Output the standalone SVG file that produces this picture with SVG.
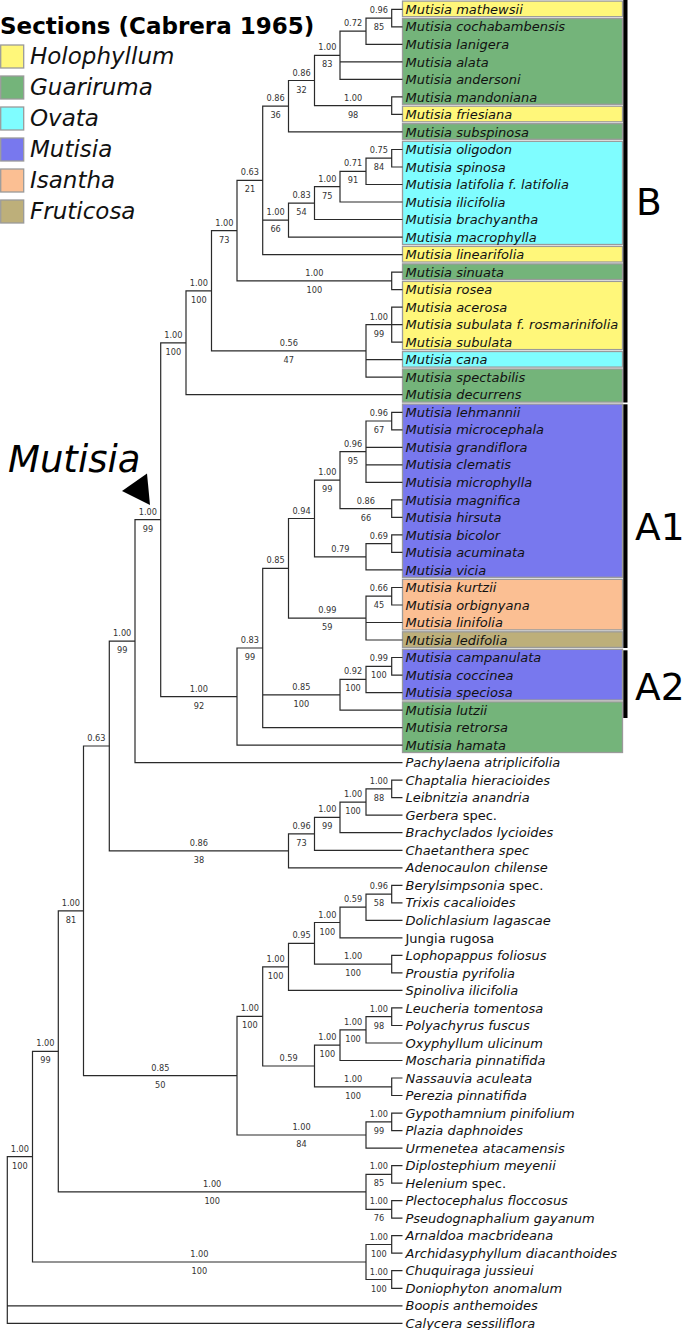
<svg xmlns="http://www.w3.org/2000/svg" width="685" height="1330" viewBox="0 0 685 1330">
<style>
.bg{fill:#fff}
.box{stroke:#9a9a9a;stroke-width:1.3}
.hol{fill:#fff77a}.gua{fill:#74b47a}.ova{fill:#7ffdff}.mut{fill:#7878ee}.isa{fill:#fbbf93}.fru{fill:#bdaf7a}
.edge{fill:none;stroke:#2a2a2a;stroke-width:1.2}
.tx{font-family:"DejaVu Sans",sans-serif;font-size:13px;font-style:italic;fill:#111}
.up{font-style:normal}
.s{font-family:"DejaVu Sans",sans-serif;font-size:8.2px;fill:#333;text-anchor:middle}
.leg{font-family:"DejaVu Sans",sans-serif;font-size:23px;font-style:italic;fill:#111}
.big{font-family:"DejaVu Sans",sans-serif;font-size:37.5px;fill:#000}
.bar{fill:#000}
</style>
<rect class="bg" x="0" y="0" width="685" height="1330"/>

<g id="legend">
<text x="0" y="33.5" style="font-family:'DejaVu Sans',sans-serif;font-size:23px;font-weight:bold;fill:#000">Sections (Cabrera 1965)</text>
<rect class="box hol" x="0.7" y="45" width="23" height="23"/><text class="leg" x="30" y="63.5">Holophyllum</text>
<rect class="box gua" x="0.7" y="76" width="23" height="23"/><text class="leg" x="30" y="94.6">Guariruma</text>
<rect class="box ova" x="0.7" y="107" width="23" height="23"/><text class="leg" x="30" y="125.7">Ovata</text>
<rect class="box mut" x="0.7" y="138" width="23" height="23"/><text class="leg" x="30" y="156.8">Mutisia</text>
<rect class="box isa" x="0.7" y="169" width="23" height="23"/><text class="leg" x="30" y="187.9">Isantha</text>
<rect class="box fru" x="0.7" y="200" width="23" height="23"/><text class="leg" x="30" y="219">Fruticosa</text>
</g>

<g id="section-boxes">
<rect class="box hol" x="402.5" y="1.1" width="220" height="15.6"/>
<rect class="box gua" x="402.5" y="18.6" width="220" height="85.7"/>
<rect class="box hol" x="402.5" y="106.2" width="220" height="15.6"/>
<rect class="box gua" x="402.5" y="123.7" width="220" height="15.6"/>
<rect class="box ova" x="402.5" y="141.3" width="220" height="103.2"/>
<rect class="box hol" x="402.5" y="246.4" width="220" height="15.6"/>
<rect class="box gua" x="402.5" y="263.9" width="220" height="15.6"/>
<rect class="box hol" x="402.5" y="281.4" width="220" height="68.2"/>
<rect class="box ova" x="402.5" y="351.5" width="220" height="15.6"/>
<rect class="box gua" x="402.5" y="369" width="220" height="33.1"/>
<rect class="box mut" x="402.5" y="404.1" width="220" height="173.2"/>
<rect class="box isa" x="402.5" y="579.3" width="220" height="50.6"/>
<rect class="box fru" x="402.5" y="631.8" width="220" height="15.6"/>
<rect class="box mut" x="402.5" y="649.3" width="220" height="50.7"/>
<rect class="box gua" x="402.5" y="701.9" width="220" height="50.6"/>
</g>

<g id="clade-bars">
<rect class="bar" x="623.3" y="0" width="4.2" height="402.5"/>
<rect class="bar" x="623.3" y="404.3" width="4.2" height="243.7"/>
<rect class="bar" x="623.3" y="650.3" width="4.2" height="67.7"/>
<text id="label-B" class="big" x="636" y="215">B</text>
<text id="label-A1" class="big" x="635" y="540">A1</text>
<text id="label-A2" class="big" x="635" y="699.5">A2</text>
</g>

<g id="genus-label">
<text x="8" y="471.7" style="font-family:'DejaVu Sans',sans-serif;font-size:37px;font-style:italic;fill:#000">Mutisia</text>
<polygon points="122,491 147,473.5 150,505" fill="#000"/>
</g>

<g id="connectors" class="edge">
<path d="M402.5 9.3H391.7V26.8H402.5M391.7 18.1H366V44.3H402.5M366 31.2H340V79.4H402.5M340 61.9H402.5M402.5 96.9H391.7V114.4H402.5M340 55.3H314.5V105.7H391.7M314.5 80.5H288.5V131.9H402.5"/>
<path d="M402.5 149.5H391.7V167H402.5M391.7 158.2H366V184.5H402.5M366 171.4H340V202H402.5M340 186.7H314.5V219.5H402.5M314.5 203.1H288.5V237.1H402.5M288.5 106.2H262.7V254.6H402.5M262.7 220.1H288.5"/>
<path d="M402.5 272.1H391.7V289.6H402.5M262.7 180.4H237V280.9H391.7M402.5 307.1H391.7V342.2H402.5M391.7 324.7H402.5M391.7 324.7H366V377.2H402.5M366 359.7H402.5M237 230.6H211.5V350.9H366M211.5 290.8H186V394.7H402.5"/>
<path d="M402.5 412.3H391.7V429.8H402.5M391.7 421H366V482.3H402.5M366 447.3H402.5M366 464.8H402.5M402.5 499.9H391.7V517.4H402.5M366 451.7H340V508.6H391.7M402.5 534.9H391.7V552.4H402.5M391.7 543.7H366V569.9H402.5M340 480.2H314.5V556.8H366"/>
<path d="M402.5 587.5H391.7V605H402.5M391.7 596.2H366V640H402.5M366 622.5H402.5M314.5 518.5H288.5V618.1H366M402.5 657.5H391.7V675.1H402.5M391.7 666.3H366V692.6H402.5M366 679.4H340V710.1H402.5M288.5 568.3H262.7V727.6H402.5M262.7 694.8H340M262.7 648H237V745.1H402.5"/>
<path d="M186 342.8H160.7V696.6H237M160.7 519.7H135V762.7H402.5"/>
<path d="M402.5 780.2H391.7V797.7H402.5M391.7 788.9H366V815.2H402.5M366 802.1H340V832.7H402.5M340 817.4H314.5V850.3H402.5M314.5 833.8H288.5V867.8H402.5M135 641.2H109.3V850.8H288.5"/>
<path d="M402.5 885.3H391.7V902.8H402.5M391.7 894.1H366V920.3H402.5M366 907.2H340V937.9H402.5M402.5 955.4H391.7V972.9H402.5M340 922.5H314.5V964.1H391.7M314.5 943.3H288.5V990.4H402.5"/>
<path d="M402.5 1007.9H391.7V1025.5H402.5M391.7 1016.7H366V1043H402.5M366 1029.8H340V1060.5H402.5M402.5 1078H391.7V1095.5H402.5M340 1045.2H314.5V1086.8H391.7M288.5 966.9H262.7V1066H314.5"/>
<path d="M402.5 1113.1H391.7V1130.6H402.5M391.7 1121.8H366V1148.1H402.5M262.7 1016.4H237V1135H366M109.3 746H83.5V1075.7H237"/>
<path d="M402.5 1165.6H391.7V1183.1H402.5M402.5 1200.7H391.7V1218.2H402.5M391.7 1174.4H366V1209.4H391.7M83.5 910.9H58.3V1191.9H366"/>
<path d="M402.5 1235.7H391.7V1253.2H402.5M402.5 1270.7H391.7V1288.3H402.5M391.7 1244.5H366V1279.5H391.7M58.3 1051.4H32.5V1262H366M32.5 1156.7H7.3V1323.3H402.5M7.3 1305.8H402.5"/>
</g>

<g id="support-values" class="s">
<g id="n1"><text x="378.9" y="13.1">0.96</text><text x="378.9" y="30.1">85</text></g>
<g id="n2"><text x="353" y="26.2">0.72</text></g>
<g id="n3"><text x="327.3" y="50.3">1.00</text><text x="327.3" y="67.3">83</text></g>
<g id="n4"><text x="353.1" y="100.7">1.00</text><text x="353.1" y="117.7">98</text></g>
<g id="n5"><text x="301.5" y="75.5">0.86</text><text x="301.5" y="92.5">32</text></g>
<g id="n6"><text x="275.6" y="101.2">0.86</text><text x="275.6" y="118.2">36</text></g>
<g id="n7"><text x="378.9" y="153.2">0.75</text><text x="378.9" y="170.2">84</text></g>
<g id="n8"><text x="353" y="166.4">0.71</text><text x="353" y="183.4">91</text></g>
<g id="n9"><text x="327.3" y="181.7">1.00</text><text x="327.3" y="198.7">75</text></g>
<g id="n10"><text x="301.5" y="198.1">0.83</text><text x="301.5" y="215.1">54</text></g>
<g id="n11"><text x="275.6" y="215.1">1.00</text><text x="275.6" y="232.1">66</text></g>
<g id="n12"><text x="249.9" y="175.4">0.63</text><text x="249.9" y="192.4">21</text></g>
<g id="n13"><text x="314.4" y="275.9">1.00</text><text x="314.4" y="292.9">100</text></g>
<g id="n14"><text x="224.3" y="225.6">1.00</text><text x="224.3" y="242.6">73</text></g>
<g id="n15"><text x="378.9" y="319.7">1.00</text><text x="378.9" y="336.7">99</text></g>
<g id="n16"><text x="288.8" y="345.9">0.56</text><text x="288.8" y="362.9">47</text></g>
<g id="n17"><text x="198.8" y="285.8">1.00</text><text x="198.8" y="302.8">100</text></g>
<g id="n18"><text x="173.4" y="337.8">1.00</text><text x="173.4" y="354.8">100</text></g>
<g id="a1"><text x="378.9" y="416">0.96</text><text x="378.9" y="433">67</text></g>
<g id="a2"><text x="353" y="446.7">0.96</text><text x="353" y="463.7">95</text></g>
<g id="a3"><text x="365.9" y="503.6">0.86</text><text x="365.9" y="520.6">66</text></g>
<g id="a4"><text x="327.3" y="475.2">1.00</text><text x="327.3" y="492.2">99</text></g>
<g id="a5"><text x="378.9" y="538.7">0.69</text></g>
<g id="a6"><text x="340.3" y="551.8">0.79</text></g>
<g id="a7"><text x="301.5" y="513.5">0.94</text></g>
<g id="a8"><text x="378.9" y="591.2">0.66</text><text x="378.9" y="608.2">45</text></g>
<g id="a9"><text x="327.3" y="613.1">0.99</text><text x="327.3" y="630.1">59</text></g>
<g id="a10"><text x="275.6" y="563.3">0.85</text></g>
<g id="a11"><text x="378.9" y="661.3">0.99</text><text x="378.9" y="678.3">100</text></g>
<g id="a12"><text x="353" y="674.4">0.92</text><text x="353" y="691.4">100</text></g>
<g id="a13"><text x="301.4" y="689.8">0.85</text><text x="301.4" y="706.8">100</text></g>
<g id="a14"><text x="249.9" y="643">0.83</text><text x="249.9" y="660">99</text></g>
<g id="a15"><text x="198.9" y="691.6">1.00</text><text x="198.9" y="708.6">92</text></g>
<g id="mut"><text x="147.9" y="514.7">1.00</text><text x="147.9" y="531.7">99</text></g>
<g id="g1"><text x="122.2" y="636.2">1.00</text><text x="122.2" y="653.2">99</text></g>
<g id="c1"><text x="378.9" y="783.9">1.00</text><text x="378.9" y="800.9">88</text></g>
<g id="c2"><text x="353" y="797.1">1.00</text><text x="353" y="814.1">100</text></g>
<g id="c3"><text x="327.3" y="812.4">1.00</text><text x="327.3" y="829.4">99</text></g>
<g id="c4"><text x="301.5" y="828.8">0.96</text><text x="301.5" y="845.8">73</text></g>
<g id="c5"><text x="198.9" y="845.8">0.86</text><text x="198.9" y="862.8">38</text></g>
<g id="g2"><text x="96.4" y="741">0.63</text></g>
<g id="m1"><text x="378.9" y="889.1">0.96</text><text x="378.9" y="906.1">58</text></g>
<g id="m2"><text x="353" y="902.2">0.59</text></g>
<g id="m3"><text x="327.3" y="917.5">1.00</text><text x="327.3" y="934.5">100</text></g>
<g id="m4"><text x="353.1" y="959.1">1.00</text><text x="353.1" y="976.1">100</text></g>
<g id="m5"><text x="301.5" y="938.3">0.95</text></g>
<g id="m6"><text x="275.6" y="961.9">1.00</text><text x="275.6" y="978.9">100</text></g>
<g id="m7"><text x="378.9" y="1011.7">1.00</text><text x="378.9" y="1028.7">98</text></g>
<g id="m8"><text x="353" y="1024.8">1.00</text><text x="353" y="1041.8">100</text></g>
<g id="m9"><text x="327.3" y="1040.2">1.00</text><text x="327.3" y="1057.2">100</text></g>
<g id="m10"><text x="353.1" y="1081.8">1.00</text><text x="353.1" y="1098.8">100</text></g>
<g id="m11"><text x="288.6" y="1061">0.59</text></g>
<g id="m12"><text x="249.9" y="1011.4">1.00</text><text x="249.9" y="1028.4">100</text></g>
<g id="m13"><text x="378.9" y="1116.8">1.00</text><text x="378.9" y="1133.8">99</text></g>
<g id="m14"><text x="301.5" y="1130">1.00</text><text x="301.5" y="1147">84</text></g>
<g id="m15"><text x="160.3" y="1070.7">0.85</text><text x="160.3" y="1087.7">50</text></g>
<g id="g3"><text x="70.9" y="905.9">1.00</text><text x="70.9" y="922.9">81</text></g>
<g id="o1"><text x="378.9" y="1169.4">1.00</text><text x="378.9" y="1186.4">85</text></g>
<g id="o2"><text x="378.9" y="1204.4">1.00</text><text x="378.9" y="1221.4">76</text></g>
<g id="o3"><text x="212.2" y="1186.9">1.00</text><text x="212.2" y="1203.9">100</text></g>
<g id="g4"><text x="45.4" y="1046.4">1.00</text><text x="45.4" y="1063.4">99</text></g>
<g id="p1"><text x="378.9" y="1239.5">1.00</text><text x="378.9" y="1256.5">100</text></g>
<g id="p2"><text x="378.9" y="1274.5">1.00</text><text x="378.9" y="1291.5">100</text></g>
<g id="p3"><text x="199.3" y="1257">1.00</text><text x="199.3" y="1274">100</text></g>
<g id="g5"><text x="19.9" y="1151.7">1.00</text><text x="19.9" y="1168.7">100</text></g>
</g>

<g id="taxa" class="tx">
<g id="t1"><text x="405.5" y="13.9">Mutisia mathewsii</text></g>
<g id="t2"><text x="405.5" y="31.4">Mutisia cochabambensis</text></g>
<g id="t3"><text x="405.5" y="48.9">Mutisia lanigera</text></g>
<g id="t4"><text x="405.5" y="66.5">Mutisia alata</text></g>
<g id="t5"><text x="405.5" y="84">Mutisia andersoni</text></g>
<g id="t6"><text x="405.5" y="101.5">Mutisia mandoniana</text></g>
<g id="t7"><text x="405.5" y="119">Mutisia friesiana</text></g>
<g id="t8"><text x="405.5" y="136.5">Mutisia subspinosa</text></g>
<g id="t9"><text x="405.5" y="154.1">Mutisia oligodon</text></g>
<g id="t10"><text x="405.5" y="171.6">Mutisia spinosa</text></g>
<g id="t11"><text x="405.5" y="189.1">Mutisia latifolia f. latifolia</text></g>
<g id="t12"><text x="405.5" y="206.6">Mutisia ilicifolia</text></g>
<g id="t13"><text x="405.5" y="224.1">Mutisia brachyantha</text></g>
<g id="t14"><text x="405.5" y="241.7">Mutisia macrophylla</text></g>
<g id="t15"><text x="405.5" y="259.2">Mutisia linearifolia</text></g>
<g id="t16"><text x="405.5" y="276.7">Mutisia sinuata</text></g>
<g id="t17"><text x="405.5" y="294.2">Mutisia rosea</text></g>
<g id="t18"><text x="405.5" y="311.7">Mutisia acerosa</text></g>
<g id="t19"><text x="405.5" y="329.3">Mutisia subulata f. rosmarinifolia</text></g>
<g id="t20"><text x="405.5" y="346.8">Mutisia subulata</text></g>
<g id="t21"><text x="405.5" y="364.3">Mutisia cana</text></g>
<g id="t22"><text x="405.5" y="381.8">Mutisia spectabilis</text></g>
<g id="t23"><text x="405.5" y="399.3">Mutisia decurrens</text></g>
<g id="t24"><text x="405.5" y="416.9">Mutisia lehmannii</text></g>
<g id="t25"><text x="405.5" y="434.4">Mutisia microcephala</text></g>
<g id="t26"><text x="405.5" y="451.9">Mutisia grandiflora</text></g>
<g id="t27"><text x="405.5" y="469.4">Mutisia clematis</text></g>
<g id="t28"><text x="405.5" y="486.9">Mutisia microphylla</text></g>
<g id="t29"><text x="405.5" y="504.5">Mutisia magnifica</text></g>
<g id="t30"><text x="405.5" y="522">Mutisia hirsuta</text></g>
<g id="t31"><text x="405.5" y="539.5">Mutisia bicolor</text></g>
<g id="t32"><text x="405.5" y="557">Mutisia acuminata</text></g>
<g id="t33"><text x="405.5" y="574.5">Mutisia vicia</text></g>
<g id="t34"><text x="405.5" y="592.1">Mutisia kurtzii</text></g>
<g id="t35"><text x="405.5" y="609.6">Mutisia orbignyana</text></g>
<g id="t36"><text x="405.5" y="627.1">Mutisia linifolia</text></g>
<g id="t37"><text x="405.5" y="644.6">Mutisia ledifolia</text></g>
<g id="t38"><text x="405.5" y="662.1">Mutisia campanulata</text></g>
<g id="t39"><text x="405.5" y="679.7">Mutisia coccinea</text></g>
<g id="t40"><text x="405.5" y="697.2">Mutisia speciosa</text></g>
<g id="t41"><text x="405.5" y="714.7">Mutisia lutzii</text></g>
<g id="t42"><text x="405.5" y="732.2">Mutisia retrorsa</text></g>
<g id="t43"><text x="405.5" y="749.7">Mutisia hamata</text></g>
<g id="t44"><text x="405.5" y="767.3">Pachylaena atriplicifolia</text></g>
<g id="t45"><text x="405.5" y="784.8">Chaptalia hieracioides</text></g>
<g id="t46"><text x="405.5" y="802.3">Leibnitzia anandria</text></g>
<g id="t47"><text x="405.5" y="819.8">Gerbera <tspan class="up">spec.</tspan></text></g>
<g id="t48"><text x="405.5" y="837.3">Brachyclados lycioides</text></g>
<g id="t49"><text x="405.5" y="854.9">Chaetanthera spec</text></g>
<g id="t50"><text x="405.5" y="872.4">Adenocaulon chilense</text></g>
<g id="t51"><text x="405.5" y="889.9">Berylsimpsonia <tspan class="up">spec.</tspan></text></g>
<g id="t52"><text x="405.5" y="907.4">Trixis cacalioides</text></g>
<g id="t53"><text x="405.5" y="924.9">Dolichlasium lagascae</text></g>
<g id="t54"><text x="405.5" y="942.5" class="up">Jungia rugosa</text></g>
<g id="t55"><text x="405.5" y="960">Lophopappus foliosus</text></g>
<g id="t56"><text x="405.5" y="977.5">Proustia pyrifolia</text></g>
<g id="t57"><text x="405.5" y="995">Spinoliva ilicifolia</text></g>
<g id="t58"><text x="405.5" y="1012.5">Leucheria tomentosa</text></g>
<g id="t59"><text x="405.5" y="1030.1">Polyachyrus fuscus</text></g>
<g id="t60"><text x="405.5" y="1047.6">Oxyphyllum ulicinum</text></g>
<g id="t61"><text x="405.5" y="1065.1">Moscharia pinnatifida</text></g>
<g id="t62"><text x="405.5" y="1082.6">Nassauvia aculeata</text></g>
<g id="t63"><text x="405.5" y="1100.1">Perezia pinnatifida</text></g>
<g id="t64"><text x="405.5" y="1117.7">Gypothamnium pinifolium</text></g>
<g id="t65"><text x="405.5" y="1135.2">Plazia daphnoides</text></g>
<g id="t66"><text x="405.5" y="1152.7">Urmenetea atacamensis</text></g>
<g id="t67"><text x="405.5" y="1170.2">Diplostephium meyenii</text></g>
<g id="t68"><text x="405.5" y="1187.7">Helenium <tspan class="up">spec.</tspan></text></g>
<g id="t69"><text x="405.5" y="1205.3">Plectocephalus floccosus</text></g>
<g id="t70"><text x="405.5" y="1222.8">Pseudognaphalium gayanum</text></g>
<g id="t71"><text x="405.5" y="1240.3">Arnaldoa macbrideana</text></g>
<g id="t72"><text x="405.5" y="1257.8">Archidasyphyllum diacanthoides</text></g>
<g id="t73"><text x="405.5" y="1275.3">Chuquiraga jussieui</text></g>
<g id="t74"><text x="405.5" y="1292.9">Doniophyton anomalum</text></g>
<g id="t75"><text x="405.5" y="1310.4">Boopis anthemoides</text></g>
<g id="t76"><text x="405.5" y="1327.9">Calycera sessiliflora</text></g>
</g>
</svg>
